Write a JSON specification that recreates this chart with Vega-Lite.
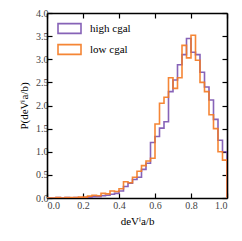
{
  "$schema": "https://vega.github.io/schema/vega-lite/v6.json",
  "width": 180,
  "height": 185,
  "autosize": {"type": "none"},
  "padding": {"left": 47, "top": 13, "right": 15, "bottom": 43},
  "config": {
    "view": {"stroke": null},
    "font": "Liberation Serif",
    "axis": {
      "grid": false,
      "domainColor": "#000000",
      "domainWidth": 1.6,
      "tickColor": "#000000",
      "tickWidth": 1.2,
      "tickSize": -5,
      "labelFont": "Liberation Serif",
      "labelFontSize": 10,
      "labelColor": "#444444",
      "labelPadding": 4,
      "titleFont": "Liberation Serif",
      "titleFontSize": 11,
      "titleFontWeight": "normal",
      "titleColor": "#000000"
    }
  },
  "data": {
    "values": [
      {"x": 0.0, "p": 0.0, "g": "high"}, {"x": 0.025, "p": 0.0, "g": "high"}, {"x": 0.05, "p": 0.01, "g": "high"}, {"x": 0.075, "p": 0.0, "g": "high"},
      {"x": 0.1, "p": 0.01, "g": "high"}, {"x": 0.125, "p": 0.0, "g": "high"}, {"x": 0.15, "p": 0.01, "g": "high"}, {"x": 0.175, "p": 0.0, "g": "high"},
      {"x": 0.2, "p": 0.01, "g": "high"}, {"x": 0.225, "p": 0.02, "g": "high"}, {"x": 0.25, "p": 0.03, "g": "high"}, {"x": 0.275, "p": 0.03, "g": "high"},
      {"x": 0.3, "p": 0.05, "g": "high"}, {"x": 0.325, "p": 0.06, "g": "high"}, {"x": 0.35, "p": 0.08, "g": "high"}, {"x": 0.375, "p": 0.1, "g": "high"},
      {"x": 0.4, "p": 0.15, "g": "high"}, {"x": 0.425, "p": 0.25, "g": "high"}, {"x": 0.45, "p": 0.32, "g": "high"}, {"x": 0.475, "p": 0.4, "g": "high"},
      {"x": 0.5, "p": 0.45, "g": "high"}, {"x": 0.525, "p": 0.62, "g": "high"}, {"x": 0.55, "p": 0.75, "g": "high"}, {"x": 0.575, "p": 1.2, "g": "high"},
      {"x": 0.6, "p": 1.33, "g": "high"}, {"x": 0.625, "p": 1.51, "g": "high"}, {"x": 0.65, "p": 1.65, "g": "high"}, {"x": 0.675, "p": 2.3, "g": "high"},
      {"x": 0.7, "p": 2.55, "g": "high"}, {"x": 0.725, "p": 2.88, "g": "high"}, {"x": 0.75, "p": 3.1, "g": "high"}, {"x": 0.775, "p": 3.45, "g": "high"},
      {"x": 0.8, "p": 3.15, "g": "high"}, {"x": 0.825, "p": 3.1, "g": "high"}, {"x": 0.85, "p": 2.72, "g": "high"}, {"x": 0.875, "p": 2.4, "g": "high"},
      {"x": 0.9, "p": 2.12, "g": "high"}, {"x": 0.925, "p": 1.7, "g": "high"}, {"x": 0.95, "p": 1.25, "g": "high"}, {"x": 0.975, "p": 1.0, "g": "high"},
      {"x": 1.0, "p": 0.0, "g": "high"},
      {"x": 0.0, "p": 0.0, "g": "low"}, {"x": 0.025, "p": 0.0, "g": "low"}, {"x": 0.05, "p": 0.01, "g": "low"}, {"x": 0.075, "p": 0.0, "g": "low"},
      {"x": 0.1, "p": 0.01, "g": "low"}, {"x": 0.125, "p": 0.01, "g": "low"}, {"x": 0.15, "p": 0.01, "g": "low"}, {"x": 0.175, "p": 0.02, "g": "low"},
      {"x": 0.2, "p": 0.02, "g": "low"}, {"x": 0.225, "p": 0.04, "g": "low"}, {"x": 0.25, "p": 0.06, "g": "low"}, {"x": 0.275, "p": 0.05, "g": "low"},
      {"x": 0.3, "p": 0.1, "g": "low"}, {"x": 0.325, "p": 0.09, "g": "low"}, {"x": 0.35, "p": 0.15, "g": "low"}, {"x": 0.375, "p": 0.14, "g": "low"},
      {"x": 0.4, "p": 0.2, "g": "low"}, {"x": 0.425, "p": 0.35, "g": "low"}, {"x": 0.45, "p": 0.33, "g": "low"}, {"x": 0.475, "p": 0.45, "g": "low"},
      {"x": 0.5, "p": 0.58, "g": "low"}, {"x": 0.525, "p": 0.7, "g": "low"}, {"x": 0.55, "p": 0.8, "g": "low"}, {"x": 0.575, "p": 0.86, "g": "low"},
      {"x": 0.6, "p": 1.6, "g": "low"}, {"x": 0.625, "p": 2.05, "g": "low"}, {"x": 0.65, "p": 2.18, "g": "low"}, {"x": 0.675, "p": 2.6, "g": "low"},
      {"x": 0.7, "p": 2.37, "g": "low"}, {"x": 0.725, "p": 2.6, "g": "low"}, {"x": 0.75, "p": 3.3, "g": "low"}, {"x": 0.775, "p": 3.03, "g": "low"},
      {"x": 0.8, "p": 3.52, "g": "low"}, {"x": 0.825, "p": 2.98, "g": "low"}, {"x": 0.85, "p": 2.5, "g": "low"}, {"x": 0.875, "p": 2.3, "g": "low"},
      {"x": 0.9, "p": 1.8, "g": "low"}, {"x": 0.925, "p": 1.5, "g": "low"}, {"x": 0.95, "p": 1.0, "g": "low"}, {"x": 0.975, "p": 0.82, "g": "low"},
      {"x": 1.0, "p": 0.0, "g": "low"}
    ]
  },
  "layer": [
    {
      "mark": {"type": "line", "interpolate": "step-after", "strokeWidth": 1.6, "opacity": 0.9, "clip": true},
      "encoding": {
        "x": {"field": "x", "type": "quantitative", "scale": {"domain": [0, 1], "nice": false},
              "axis": {"orient": "bottom", "values": [0, 0.2, 0.4, 0.6, 0.8, 1.0], "format": ".1f", "title": "deVⁱa/b", "labelPadding": 7, "titlePadding": 5}},
        "y": {"field": "p", "type": "quantitative", "scale": {"domain": [0, 4], "nice": false},
              "axis": {"orient": "left", "values": [0, 0.5, 1, 1.5, 2, 2.5, 3, 3.5, 4], "format": ".1f", "title": "P(deVⁱa/b)", "titlePadding": 6}},
        "stroke": {"field": "g", "type": "nominal",
          "scale": {"domain": ["high", "low"], "range": ["#7a52b0", "#f47920"]},
          "legend": {
            "orient": "none", "legendX": 10, "legendY": 3, "title": null,
            "labelExpr": "datum.label == 'high' ? 'high cgal' : 'low cgal'",
            "symbolType": "M-1,-0.42H1V0.42H-1Z", "symbolSize": 529, "symbolStrokeWidth": 1.6,
            "symbolFillColor": "transparent",
            "labelFont": "Liberation Serif", "labelFontSize": 11, "labelFontWeight": "normal", "labelColor": "#000000",
            "rowPadding": -6, "labelOffset": 8
          }
        }
      }
    },
    {
      "mark": {"type": "line", "opacity": 0},
      "encoding": {
        "x": {"field": "x", "type": "quantitative", "axis": {"orient": "top", "values": [0, 0.2, 0.4, 0.6, 0.8, 1.0], "labels": false, "title": null}},
        "y": {"field": "p", "type": "quantitative", "axis": {"orient": "right", "values": [0, 0.5, 1, 1.5, 2, 2.5, 3, 3.5, 4], "labels": false, "title": null}}
      }
    }
  ],
  "resolve": {"axis": {"x": "independent", "y": "independent"}}
}
